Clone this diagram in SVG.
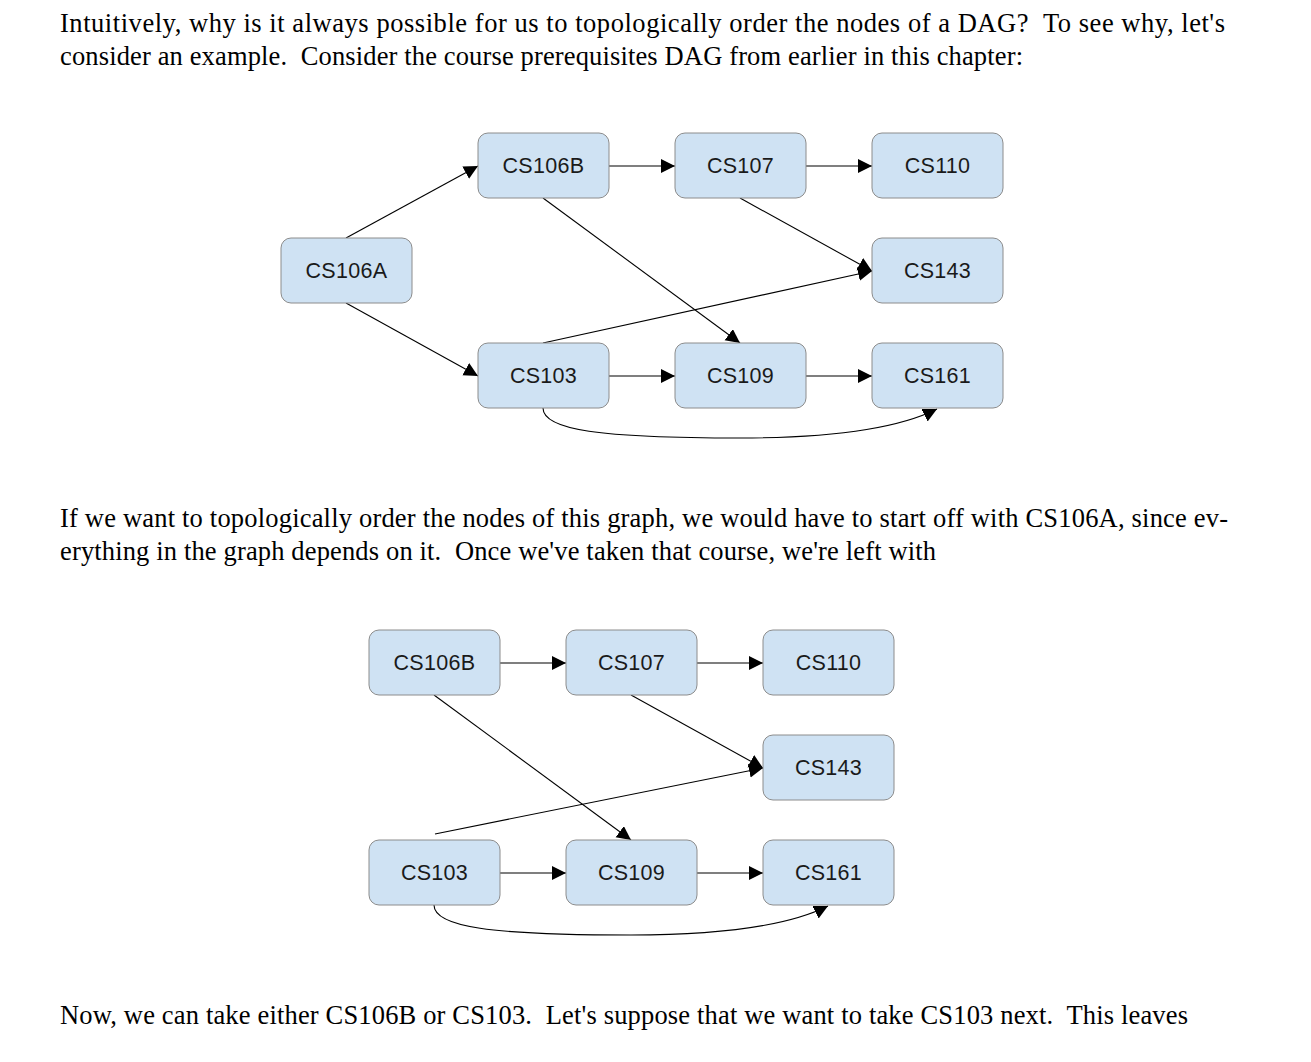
<svg xmlns="http://www.w3.org/2000/svg" width="1311" height="1062" viewBox="0 0 1311 1062">
<style>
.p{font-family:"Liberation Serif","Times New Roman",serif;font-size:26.5px;fill:#000;white-space:pre}
.n rect{fill:#cfe2f3;stroke:#8c8c8c;stroke-width:1}
.n text{font-family:"Liberation Sans",Arial,sans-serif;font-size:21.5px;letter-spacing:0.3px;fill:#1a1a1a;text-anchor:middle}
.e path{fill:none;stroke:#000;stroke-width:1.1}
</style>
<defs>
<marker id="a" markerUnits="userSpaceOnUse" markerWidth="16" markerHeight="15" refX="14" refY="7" orient="auto" viewBox="0 0 16 15"><path d="M0,0 L14,7 L0,14 z" fill="#000"/></marker>
</defs>
<rect width="1311" height="1062" fill="#fff"/>
<g id="text">
<text class="p" xml:space="preserve" x="60" y="32" textLength="1165" lengthAdjust="spacing">Intuitively, why is it always possible for us to topologically order the nodes of a DAG?  To see why, let's</text>
<text class="p" xml:space="preserve" x="60" y="65" textLength="963" lengthAdjust="spacing">consider an example.  Consider the course prerequisites DAG from earlier in this chapter:</text>
<text class="p" xml:space="preserve" x="60" y="527" textLength="1168" lengthAdjust="spacing">If we want to topologically order the nodes of this graph, we would have to start off with CS106A, since ev-</text>
<text class="p" xml:space="preserve" x="60" y="560" textLength="876" lengthAdjust="spacing">erything in the graph depends on it.  Once we've taken that course, we're left with</text>
<text class="p" xml:space="preserve" x="60" y="1024" textLength="1128" lengthAdjust="spacing">Now, we can take either CS106B or CS103.  Let's suppose that we want to take CS103 next.  This leaves</text>
</g>
<g id="connectors" class="e">
<path marker-end="url(#a)" d="M346,238 L478,166"/>
<path marker-end="url(#a)" d="M346,303 L478,376"/>
<path marker-end="url(#a)" d="M609,166 L675,166"/>
<path marker-end="url(#a)" d="M806,166 L872,166"/>
<path marker-end="url(#a)" d="M543,198 L740,343"/>
<path marker-end="url(#a)" d="M740,198 L872,271"/>
<path marker-end="url(#a)" d="M543,343 L872,271"/>
<path marker-end="url(#a)" d="M609,376 L675,376"/>
<path marker-end="url(#a)" d="M806,376 L872,376"/>
<path marker-end="url(#a)" d="M543,408 C543,430 600,438 740,438 C850,438 905,425 937,409"/>
<path marker-end="url(#a)" d="M500,663 L566,663"/>
<path marker-end="url(#a)" d="M697,663 L763,663"/>
<path marker-end="url(#a)" d="M434,695 L631,840"/>
<path marker-end="url(#a)" d="M631,695 L763,768"/>
<path marker-end="url(#a)" d="M435,834 L763,768"/>
<path marker-end="url(#a)" d="M500,873 L566,873"/>
<path marker-end="url(#a)" d="M697,873 L763,873"/>
<path marker-end="url(#a)" d="M434,905 C434,927 491,935 631,935 C741,935 796,922 828,906"/>
</g>
<g id="d1-CS106A" class="n"><rect x="281" y="238" width="131" height="65" rx="10"/><text x="346.5" y="278">CS106A</text></g>
<g id="d1-CS106B" class="n"><rect x="478" y="133" width="131" height="65" rx="10"/><text x="543.5" y="173">CS106B</text></g>
<g id="d1-CS107" class="n"><rect x="675" y="133" width="131" height="65" rx="10"/><text x="740.5" y="173">CS107</text></g>
<g id="d1-CS110" class="n"><rect x="872" y="133" width="131" height="65" rx="10"/><text x="937.5" y="173">CS110</text></g>
<g id="d1-CS143" class="n"><rect x="872" y="238" width="131" height="65" rx="10"/><text x="937.5" y="278">CS143</text></g>
<g id="d1-CS103" class="n"><rect x="478" y="343" width="131" height="65" rx="10"/><text x="543.5" y="383">CS103</text></g>
<g id="d1-CS109" class="n"><rect x="675" y="343" width="131" height="65" rx="10"/><text x="740.5" y="383">CS109</text></g>
<g id="d1-CS161" class="n"><rect x="872" y="343" width="131" height="65" rx="10"/><text x="937.5" y="383">CS161</text></g>
<g id="d2-CS106B" class="n"><rect x="369" y="630" width="131" height="65" rx="10"/><text x="434.5" y="670">CS106B</text></g>
<g id="d2-CS107" class="n"><rect x="566" y="630" width="131" height="65" rx="10"/><text x="631.5" y="670">CS107</text></g>
<g id="d2-CS110" class="n"><rect x="763" y="630" width="131" height="65" rx="10"/><text x="828.5" y="670">CS110</text></g>
<g id="d2-CS143" class="n"><rect x="763" y="735" width="131" height="65" rx="10"/><text x="828.5" y="775">CS143</text></g>
<g id="d2-CS103" class="n"><rect x="369" y="840" width="131" height="65" rx="10"/><text x="434.5" y="880">CS103</text></g>
<g id="d2-CS109" class="n"><rect x="566" y="840" width="131" height="65" rx="10"/><text x="631.5" y="880">CS109</text></g>
<g id="d2-CS161" class="n"><rect x="763" y="840" width="131" height="65" rx="10"/><text x="828.5" y="880">CS161</text></g>
</svg>
